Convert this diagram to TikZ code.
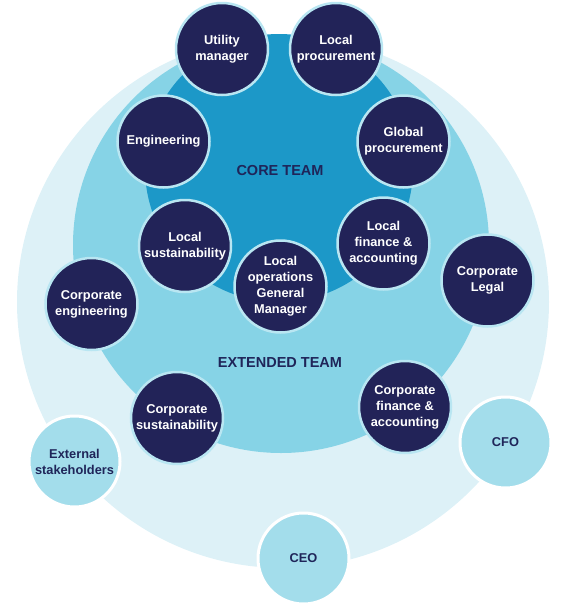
\documentclass[tikz,border=0pt]{standalone}
\usepackage{fontspec}
\setmainfont{Liberation Sans}
\definecolor{outerc}{HTML}{DDF1F7}
\definecolor{midc}{HTML}{86D3E6}
\definecolor{corec}{HTML}{1C98C8}
\definecolor{navy}{HTML}{222358}
\definecolor{lightc}{HTML}{A3DDEB}
\definecolor{labelc}{HTML}{1F2559}
\definecolor{ringc}{HTML}{B9E6F2}
\tikzset{
  member/.style={circle, fill=navy, draw=ringc, line width=2.5pt, minimum size=92pt, inner sep=0pt,
    text=white, align=center, font=\fontsize{12.8}{16}\selectfont\bfseries},
  outsider/.style={circle, fill=lightc, draw=white, line width=3pt, minimum size=91pt, inner sep=0pt,
    text=labelc, align=center, font=\fontsize{12.8}{16}\selectfont\bfseries},
  teamlabel/.style={text=labelc, font=\fontsize{14.5}{16}\selectfont\bfseries, inner sep=0pt}
}
\begin{document}
\begin{tikzpicture}[x=1pt,y=-1pt]
\useasboundingbox (0,0) rectangle (575,611);
% rings
\fill[outerc] (283,302) circle[radius=266pt];
\fill[midc] (281,245) circle[radius=208pt];
\fill[corec] (279,168) circle[radius=134pt];
% labels
\node[teamlabel] (core) at (280,171) {CORE TEAM};
\node[teamlabel] (ext) at (280,363) {EXTENDED TEAM};
% core team
\node[member] (um) at (222,49) {Utility\\manager};
\node[member] (lp) at (336,49) {Local\\procurement};
\node[member] (eng) at (163.5,141.5) {Engineering};
\node[member] (gp) at (403.5,141.5) {Global\\procurement};
\node[member] (ls) at (185,246) {Local\\sustainability};
\node[member] (lfa) at (383.5,243.5) {Local\\finance \&\\accounting};
\node[member] (log) at (280.5,286.5) {Local\\operations\\General\\Manager};
% extended team
\node[member] (cl) at (487.5,280.5) {Corporate\\Legal};
\node[member] (ce) at (91.5,304) {Corporate\\engineering};
\node[member] (cs) at (177,418) {Corporate\\sustainability};
\node[member] (cfa) at (405,407) {Corporate\\finance \&\\accounting};
% outer
\node[outsider] (es) at (74.5,461.5) {External\\stakeholders};
\node[outsider] (cfo) at (505.5,442.5) {CFO};
\node[outsider] (ceo) at (303.5,558.5) {CEO};
\end{tikzpicture}
\end{document}
